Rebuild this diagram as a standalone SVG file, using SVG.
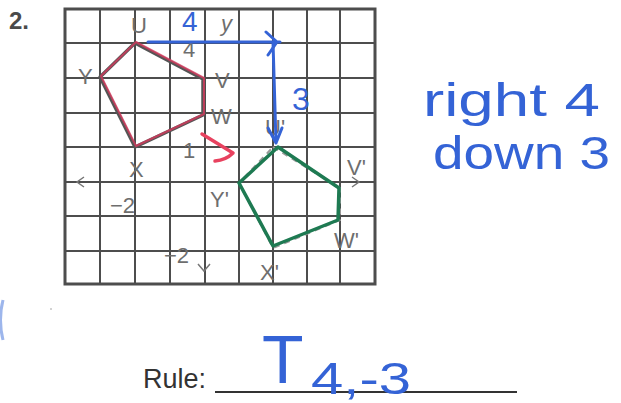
<svg xmlns="http://www.w3.org/2000/svg" width="621" height="403" viewBox="0 0 621 403">
<style>
.grid{stroke:#4d4d4d;stroke-width:2;fill:none}
.lbl{font-family:"Liberation Sans",Arial,sans-serif;fill:#6e6e6e;font-size:22px}
.hand{font-family:"Liberation Sans",Arial,sans-serif;fill:#3463d6}
.blue{stroke:#3463d6;stroke-width:3;fill:none;stroke-linecap:round;stroke-linejoin:round}
</style>
<rect width="621" height="403" fill="#ffffff"/>
<text x="9" y="29" font-family="Liberation Sans,Arial,sans-serif" font-weight="bold" font-size="24" fill="#4a4a4a">2.</text>
<g id="grid">
<path class="grid" d="M100 9V284M135 9V284M170 9V284M205 9V284M239 9V284M273 9V284M307 9V284M340 9V284M65 43H375M65 78H375M65 113H375M65 147H375M65 182H375M65 216H375M65 251H375"/>
<rect x="65" y="9" width="310" height="275" fill="none" stroke="#4d4d4d" stroke-width="3"/>
<path d="M84 177L77 182L84 187M352 177L359 182L352 187M198 264L204 271L210 264" stroke="#777" stroke-width="1.5" fill="none"/>
</g>
<g id="labels">
<text class="lbl" x="131" y="33">U</text>
<text class="lbl" x="78" y="84">Y</text>
<text class="lbl" x="215" y="88">V</text>
<text class="lbl" x="211" y="124">W</text>
<text class="lbl" x="129" y="177">X</text>
<text class="lbl" x="221" y="31" font-size="19" font-style="italic">y</text>
<text class="lbl" x="183" y="57" font-size="20">4</text>
<text class="lbl" x="183" y="158">1</text>
<text class="lbl" x="110" y="213">−2</text>
<text class="lbl" x="164" y="263">−2</text>
<text class="lbl" x="265" y="135">U'</text>
<text class="lbl" x="347" y="175">V'</text>
<text class="lbl" x="210" y="207">Y'</text>
<text class="lbl" x="334" y="248">W'</text>
<text class="lbl" x="260" y="280">X'</text>
</g>
<g id="pentagon-UVWXY">
<polygon points="135,43 203,79 203,115 135,147 100,77" fill="none" stroke="#555" stroke-width="3.5" stroke-linejoin="round"/>
<polygon points="135,43 203,79 203,115 135,147 100,77" fill="none" stroke="#d63a5c" stroke-width="2" stroke-linejoin="round" transform="translate(1,-1)" opacity="0.8"/>
</g>
<g id="pentagon-image">
<polygon points="273,147 340,188 340,220 273,248 239,183" fill="none" stroke="#999" stroke-width="2" stroke-dasharray="6 5"/>
<polygon points="278,147 339,188 338,220 273,246 239,183" fill="none" stroke="#1e7a52" stroke-width="3.5" stroke-linejoin="round"/>
</g>
<g id="connectors">
<path class="blue" d="M148 42H280M266 32L277 42L268 55"/>
<path class="blue" d="M273 42L276 143M268 128L276 143L282 128"/>
<path d="M202 134L233 153Q226 160 215 161" stroke="#e8425f" stroke-width="3.5" fill="none" stroke-linecap="round" stroke-linejoin="round"/>
</g>
<g id="annotations">
<text class="hand" x="182" y="31" font-size="28">4</text>
<text class="hand" x="292" y="110" font-size="32">3</text>
<text class="hand" x="423" y="116" font-size="46" textLength="177" lengthAdjust="spacingAndGlyphs">right 4</text>
<text class="hand" x="433" y="169" font-size="46" textLength="177" lengthAdjust="spacingAndGlyphs">down 3</text>
<path d="M3 300Q-2 320 3 340" stroke="#5b86e0" stroke-width="3" fill="none" opacity="0.6"/>
<circle cx="51" cy="309" r="0.8" fill="#999"/>
</g>
<g id="rule">
<text x="143" y="388" font-family="Liberation Sans,Arial,sans-serif" font-size="27" fill="#333">Rule:</text>
<line x1="215" y1="392" x2="517" y2="392" stroke="#333" stroke-width="2"/>
<text class="hand" x="262" y="383" font-size="68">T</text>
<text class="hand" x="311" y="394" font-size="44" textLength="100" lengthAdjust="spacingAndGlyphs">4,-3</text>
</g>
</svg>
